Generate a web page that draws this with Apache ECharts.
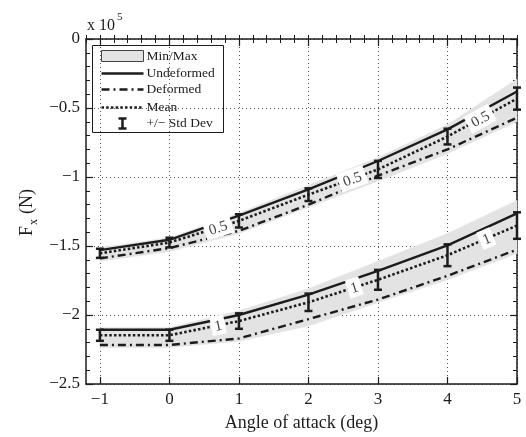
<!DOCTYPE html>
<html>
<head>
<meta charset="utf-8">
<script src="https://cdn.jsdelivr.net/npm/echarts@6/dist/echarts.min.js"></script>
<style>
  html, body { margin: 0; padding: 0; background: #fff; }
  #chart { width: 526px; height: 437px; }
</style>
</head>
<body>
<div id="chart"></div>
<script>
// Angle of attack (deg)
const angles = [-1, 0, 1, 2, 3, 4, 5];
const xTicks = [-1, 0, 1, 2, 3, 4, 5];
const yTicks = [0, -0.5, -1, -1.5, -2, -2.5];

// Fx in units of 1e5 N — case "0.5"
const undeformed05 = [-1.53, -1.455, -1.28, -1.09, -0.884, -0.655, -0.38];
const deformed05   = [-1.59, -1.515, -1.39, -1.20, -0.99, -0.80, -0.57];
const mean05       = [-1.553, -1.475, -1.318, -1.128, -0.945, -0.707, -0.432];
const std05        = [0.033, 0.035, 0.048, 0.046, 0.062, 0.057, 0.08];
const max05        = [-1.51, -1.44, -1.26, -1.06, -0.86, -0.62, -0.29];
const min05        = [-1.61, -1.54, -1.41, -1.22, -1.03, -0.83, -0.60];

// Fx in units of 1e5 N — case "1"
const undeformed1 = [-2.107, -2.107, -2.0, -1.852, -1.68, -1.495, -1.264];
const deformed1   = [-2.217, -2.217, -2.17, -2.03, -1.888, -1.716, -1.526];
const mean1       = [-2.147, -2.147, -2.044, -1.908, -1.745, -1.567, -1.352];
const std1        = [0.04, 0.04, 0.056, 0.063, 0.072, 0.079, 0.096];
const max1        = [-2.09, -2.09, -1.97, -1.81, -1.61, -1.41, -1.17];
const min1        = [-2.235, -2.235, -2.19, -2.08, -1.91, -1.745, -1.555];

// where the in-line curve labels sit (angle of attack)
const labelAt05 = [0.7, 2.63, 4.47];
const labelAt1  = [0.7, 2.66, 4.56];

const SERIF = '"Liberation Serif", "Times New Roman", "DejaVu Serif", serif';
const INK = '#1c1c1c';
const BAND = '#e3e3e3';
const DASHDOT = [8, 4, 2, 4];
const DOTTED = [2.5, 2.2];

const fmtMinus = v => (v < 0 ? '\u2212' + Math.abs(v) : String(v));

function interp(xs, ys, x) {
  for (let i = 0; i < xs.length - 1; i++) {
    if (x >= xs[i] && x <= xs[i + 1]) {
      const t = (x - xs[i]) / (xs[i + 1] - xs[i]);
      return ys[i] + t * (ys[i + 1] - ys[i]);
    }
  }
  return ys[ys.length - 1];
}

function bandSeries(lo, hi) {
  return {
    type: 'custom', xAxisIndex: 0, yAxisIndex: 0, z: 1, silent: true,
    data: [[angles[0], lo[0]]],
    renderItem(params, api) {
      const pts = [];
      for (let i = 0; i < angles.length; i++) pts.push(api.coord([angles[i], hi[i]]));
      for (let i = angles.length - 1; i >= 0; i--) pts.push(api.coord([angles[i], lo[i]]));
      return { type: 'polygon', shape: { points: pts }, style: { fill: BAND, stroke: BAND, lineWidth: 0.5 } };
    }
  };
}

function lineSeries(name, values, dash, width) {
  return {
    name, type: 'line', xAxisIndex: 0, yAxisIndex: 0, z: 3,
    data: angles.map((a, i) => [a, values[i]]),
    symbol: 'none', silent: true,
    lineStyle: { color: INK, width, type: dash, cap: 'butt' }
  };
}

function errorSeries(mean, std) {
  return {
    type: 'custom', xAxisIndex: 0, yAxisIndex: 0, z: 5, silent: true,
    data: angles.map((a, i) => [a, mean[i] - std[i], mean[i] + std[i]]),
    encode: { x: 0, y: [1, 2] },
    renderItem(params, api) {
      const lo = api.coord([api.value(0), api.value(1)]);
      const hi = api.coord([api.value(0), api.value(2)]);
      const w = 4;
      const st = { stroke: INK, lineWidth: 2.5 };
      return {
        type: 'group', children: [
          { type: 'line', shape: { x1: hi[0], y1: hi[1], x2: lo[0], y2: lo[1] }, style: st },
          { type: 'line', shape: { x1: hi[0] - w, y1: hi[1], x2: hi[0] + w, y2: hi[1] }, style: st },
          { type: 'line', shape: { x1: lo[0] - w, y1: lo[1], x2: lo[0] + w, y2: lo[1] }, style: st }
        ]
      };
    }
  };
}

// in-line labels on a white box, turned along the local slope of the mean curve
function curveLabels(text, xs, mean) {
  return {
    type: 'custom', xAxisIndex: 0, yAxisIndex: 0, z: 10, silent: true,
    data: xs.map(x => [x, interp(angles, mean, x)]),
    renderItem(params, api) {
      const x = api.value(0);
      const p = api.coord([x, api.value(1)]);
      const a = api.coord([x - 0.15, interp(angles, mean, x - 0.15)]);
      const b = api.coord([x + 0.15, interp(angles, mean, x + 0.15)]);
      const rot = Math.atan2(a[1] - b[1], b[0] - a[0]);
      const w = text.length * 7 + 7, h = 19;
      return {
        type: 'group', x: p[0], y: p[1], rotation: rot,
        children: [
          { type: 'rect', shape: { x: -w / 2, y: -h / 2, width: w, height: h }, style: { fill: '#fff' } },
          { type: 'text', style: { text, x: 0, y: 1, align: 'center', verticalAlign: 'middle', font: '15px ' + SERIF, fill: '#444' } }
        ]
      };
    }
  };
}

const majorTickX = { show: true, inside: true, length: 7, customValues: xTicks, lineStyle: { color: INK, width: 1.2 } };
const minorAxisX = (pos) => ({
  type: 'value', position: pos, min: -1.2, max: 5, interval: 0.2,
  axisLine: { show: false }, axisLabel: { show: false }, splitLine: { show: false },
  axisTick: { show: true, inside: true, length: 4, lineStyle: { color: INK, width: 1 } }
});

const option = {
  animation: false,
  backgroundColor: '#fff',
  grid: { left: 86, right: 9, top: 39, bottom: 48, containLabel: false },
  xAxis: [
    {
      type: 'value', position: 'bottom', min: -1.2, max: 5,
      axisLine: { show: true, onZero: false, lineStyle: { color: INK, width: 1.5 } },
      axisTick: majorTickX,
      axisLabel: { customValues: xTicks, formatter: fmtMinus, fontFamily: SERIF, fontSize: 17, color: INK, margin: 7 },
      splitLine: { show: true, lineStyle: { color: '#555', width: 1, type: [1, 3] } },
      name: 'Angle of attack (deg)', nameLocation: 'middle', nameGap: 30,
      nameTextStyle: { fontFamily: SERIF, fontSize: 18, color: INK }
    },
    minorAxisX('bottom'),
    {
      type: 'value', position: 'top', min: -1.2, max: 5,
      axisLine: { show: true, onZero: false, lineStyle: { color: INK, width: 1.5 } },
      axisTick: majorTickX, axisLabel: { show: false }, splitLine: { show: false }
    },
    minorAxisX('top')
  ],
  yAxis: [
    {
      type: 'value', position: 'left', min: -2.5, max: 0, interval: 0.5,
      axisLine: { show: true, onZero: false, lineStyle: { color: INK, width: 1.5 } },
      axisTick: { show: true, inside: true, length: 7, lineStyle: { color: INK, width: 1.2 } },
      minorTick: { show: true, splitNumber: 5, length: 4, lineStyle: { color: INK, width: 1 } },
      axisLabel: { formatter: fmtMinus, fontFamily: SERIF, fontSize: 17, color: INK, margin: 6 },
      splitLine: { show: true, lineStyle: { color: '#555', width: 1, type: [1, 3] } }
    },
    {
      type: 'value', position: 'right', min: -2.5, max: 0, interval: 0.5,
      axisLine: { show: true, onZero: false, lineStyle: { color: INK, width: 1.5 } },
      axisTick: { show: true, inside: true, length: 7, lineStyle: { color: INK, width: 1.2 } },
      minorTick: { show: true, splitNumber: 5, length: 4, lineStyle: { color: INK, width: 1 } },
      axisLabel: { show: false }, splitLine: { show: false }
    }
  ],
  series: [
    bandSeries(min05, max05),
    bandSeries(min1, max1),
    lineSeries('Undeformed', undeformed05, 'solid', 2.4),
    lineSeries('Deformed', deformed05, DASHDOT, 2.4),
    lineSeries('Mean', mean05, DOTTED, 2.6),
    lineSeries('Undeformed', undeformed1, 'solid', 2.4),
    lineSeries('Deformed', deformed1, DASHDOT, 2.4),
    lineSeries('Mean', mean1, DOTTED, 2.6),
    errorSeries(mean05, std05),
    errorSeries(mean1, std1),
    curveLabels('0.5', labelAt05, mean05),
    curveLabels('1', labelAt1, mean1)
  ],
  graphic: [
    // scale factor above the y axis
    { type: 'text', left: 87, top: 18, style: { text: 'x 10', font: '16px ' + SERIF, fill: INK } },
    { type: 'text', left: 117, top: 12, style: { text: '5', font: '11px ' + SERIF, fill: INK } },
    // y-axis title, F with subscript x
    {
      type: 'group', x: 36, y: 236, rotation: Math.PI / 2,
      children: [
        { type: 'text', x: 0, y: 0, style: { text: 'F', font: '18px ' + SERIF, fill: INK, textVerticalAlign: 'bottom' } },
        { type: 'text', x: 11, y: 4, style: { text: 'x', font: '12px ' + SERIF, fill: INK, textVerticalAlign: 'bottom' } },
        { type: 'text', x: 22, y: 0, style: { text: '(N)', font: '18px ' + SERIF, fill: INK, textVerticalAlign: 'bottom' } }
      ]
    },
    // legend
    {
      type: 'group', left: 92, top: 45, z: 20,
      children: [
        { type: 'rect', shape: { x: 0, y: 0, width: 131, height: 87 }, style: { fill: '#fff', stroke: INK, lineWidth: 1 } },
        { type: 'rect', shape: { x: 9, y: 5, width: 42, height: 11 }, style: { fill: BAND, stroke: '#444', lineWidth: 1 } },
        { type: 'line', shape: { x1: 9, y1: 28, x2: 51, y2: 28 }, style: { stroke: INK, lineWidth: 2.4 } },
        { type: 'line', shape: { x1: 9, y1: 44, x2: 51, y2: 44 }, style: { stroke: INK, lineWidth: 2.4, lineDash: DASHDOT } },
        { type: 'line', shape: { x1: 9, y1: 62, x2: 51, y2: 62 }, style: { stroke: INK, lineWidth: 2.6, lineDash: DOTTED } },
        { type: 'line', shape: { x1: 30, y1: 73, x2: 30, y2: 83 }, style: { stroke: INK, lineWidth: 2.5 } },
        { type: 'line', shape: { x1: 26, y1: 73, x2: 34, y2: 73 }, style: { stroke: INK, lineWidth: 2.5 } },
        { type: 'line', shape: { x1: 26, y1: 83, x2: 34, y2: 83 }, style: { stroke: INK, lineWidth: 2.5 } },
        { type: 'text', x: 54, y: 11, style: { text: 'Min/Max', font: '13.5px ' + SERIF, fill: INK, textVerticalAlign: 'middle' } },
        { type: 'text', x: 54, y: 28, style: { text: 'Undeformed', font: '13.5px ' + SERIF, fill: INK, textVerticalAlign: 'middle' } },
        { type: 'text', x: 54, y: 44, style: { text: 'Deformed', font: '13.5px ' + SERIF, fill: INK, textVerticalAlign: 'middle' } },
        { type: 'text', x: 54, y: 62, style: { text: 'Mean', font: '13.5px ' + SERIF, fill: INK, textVerticalAlign: 'middle' } },
        { type: 'text', x: 54, y: 78, style: { text: '+/\u2212 Std Dev', font: '13.5px ' + SERIF, fill: INK, textVerticalAlign: 'middle' } }
      ]
    }
  ]
};

const chart = echarts.init(document.getElementById('chart'), null, { renderer: 'canvas' });
chart.setOption(option);
</script>
</body>
</html>
